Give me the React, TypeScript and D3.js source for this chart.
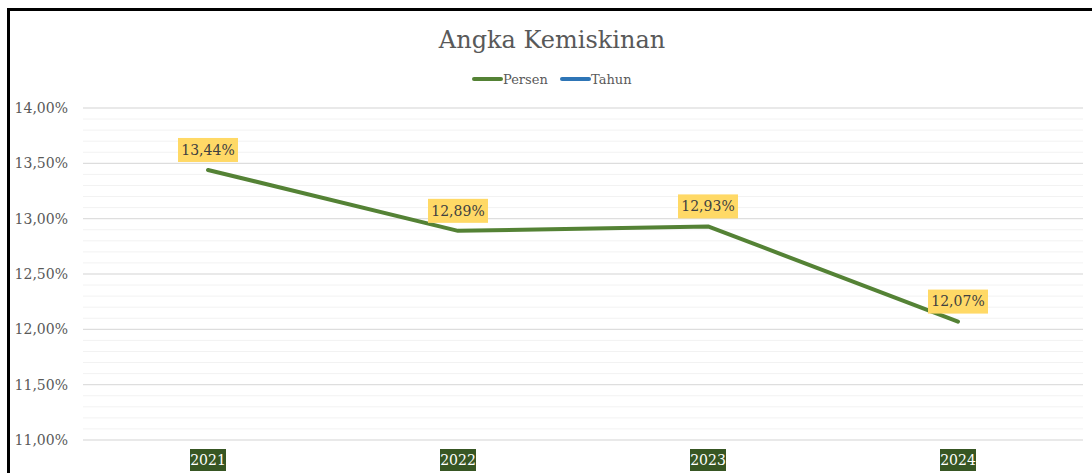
import React from "react";
import * as d3 from "d3";

const years = ["2021", "2022", "2023", "2024"];
const persen = [13.44, 12.89, 12.93, 12.07];
const yTicks = [11, 11.5, 12, 12.5, 13, 13.5, 14];
const legendItems = ["Persen", "Tahun"];
const legendColors = ["#548235", "#2E75B6"];

const W = 1092;
const H = 473;
const FONT = "'DejaVu Serif', serif";

const fmt = (v: number) => v.toFixed(2).replace(".", ",") + "%";

export default function App() {
  const x = d3.scaleBand<string>().domain(years).range([83, 1083]);
  const y = d3.scaleLinear().domain([11, 14]).range([440, 108]);
  const minor = d3.range(110, 141, 1).map((v) => v / 10);
  const line = d3
    .line<number>()
    .x((_, i) => (x(years[i]) as number) + x.bandwidth() / 2)
    .y((d) => y(d));

  return (
    <svg
      width={W}
      height={H}
      style={{ position: "fixed", left: 0, top: 0, background: "#fff" }}
      fontFamily={FONT}
    >
      <rect x={0} y={0} width={W} height={H} fill="#fff" />
      {minor.map((v) => (
        <line
          key={"m" + v}
          x1={83}
          x2={1083}
          y1={y(v)}
          y2={y(v)}
          stroke="#F2F2F2"
          strokeWidth={1}
        />
      ))}
      {yTicks.map((v) => (
        <line
          key={"g" + v}
          x1={83}
          x2={1083}
          y1={y(v)}
          y2={y(v)}
          stroke="#D9D9D9"
          strokeWidth={1}
        />
      ))}
      {yTicks.map((v) => (
        <text
          key={"t" + v}
          x={68}
          y={y(v)}
          dy="0.35em"
          textAnchor="end"
          fontSize={14}
          fill="#595959"
        >
          {fmt(v)}
        </text>
      ))}
      <text x={552} y={48} textAnchor="middle" fontSize={24} fill="#595959">
        Angka Kemiskinan
      </text>
      {legendItems.map((name, i) => {
        const x0 = i === 0 ? 474 : 562;
        return (
          <g key={name}>
            <line
              x1={x0}
              x2={x0 + 27}
              y1={79}
              y2={79}
              stroke={legendColors[i]}
              strokeWidth={4}
              strokeLinecap="round"
            />
            <text x={x0 + 29} y={79} dy="0.35em" fontSize={13} fill="#595959">
              {name}
            </text>
          </g>
        );
      })}
      <path
        d={line(persen) || ""}
        fill="none"
        stroke="#548235"
        strokeWidth={4}
        strokeLinecap="round"
        strokeLinejoin="round"
      />
      {persen.map((v, i) => {
        const cx = (x(years[i]) as number) + x.bandwidth() / 2;
        const cy = y(v) - 20;
        return (
          <g key={"l" + i}>
            <rect x={cx - 30} y={cy - 12} width={60} height={24} fill="#FFD966" />
            <text
              x={cx}
              y={cy}
              dy="0.35em"
              textAnchor="middle"
              fontSize={14}
              fill="#404040"
            >
              {fmt(v)}
            </text>
          </g>
        );
      })}
      {years.map((yr) => {
        const cx = (x(yr) as number) + x.bandwidth() / 2;
        return (
          <g key={"x" + yr}>
            <rect x={cx - 18} y={449} width={36} height={22} fill="#375623" />
            <text
              x={cx}
              y={460}
              dy="0.35em"
              textAnchor="middle"
              fontSize={14}
              fill="#ffffff"
            >
              {yr}
            </text>
          </g>
        );
      })}
      <rect
        x={8.5}
        y={9.5}
        width={W + 20}
        height={H + 20}
        fill="none"
        stroke="#000"
        strokeWidth={3}
      />
    </svg>
  );
}
